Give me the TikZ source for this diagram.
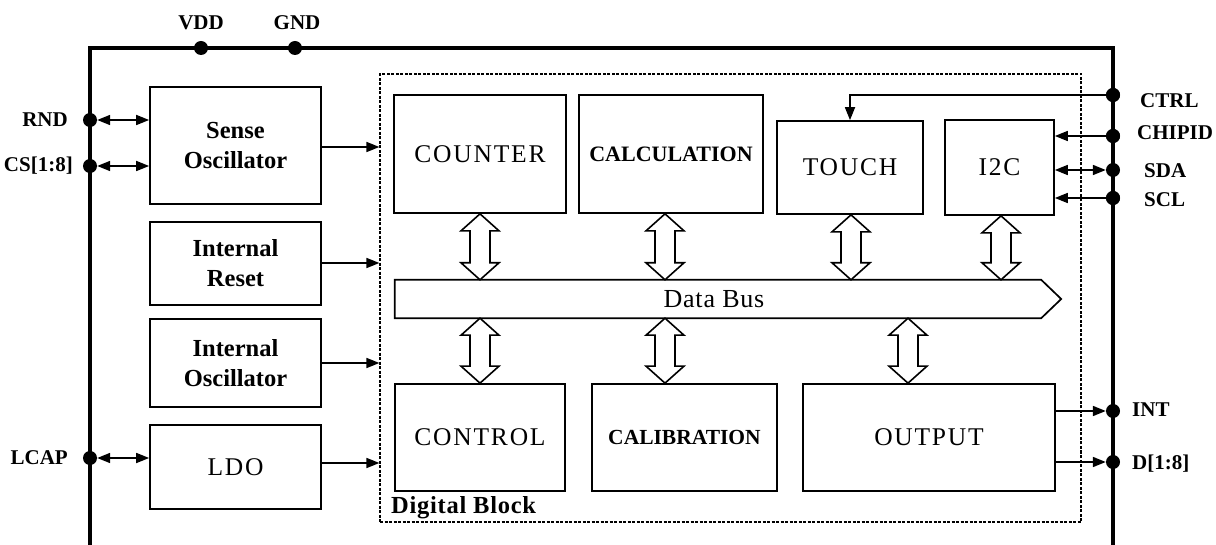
\documentclass[tikz,border=0pt]{standalone}
\usepackage{fontspec}
\setmainfont{Liberation Serif}
\usetikzlibrary{arrows.meta,calc}
\newcommand\dblarr[2]{%
  \path[hollow] let \p1=#1, \p2=#2 in
    (\x1,\y1) -- (\x1+19pt,\y1-17pt) -- (\x1+10pt,\y1-17pt) -- (\x1+10pt,\y2+17pt)
    -- (\x1+19pt,\y2+17pt) -- (\x1,\y2) -- (\x1-19pt,\y2+17pt) -- (\x1-10pt,\y2+17pt)
    -- (\x1-10pt,\y1-17pt) -- (\x1-19pt,\y1-17pt) -- cycle;}
\begin{document}
\begin{tikzpicture}[x=1pt,y=-1pt,
  blk/.style={draw, line width=1.7pt, inner sep=0pt, align=center},
  lft/.style={blk, minimum width=171pt, font=\fontsize{24.5}{30}\selectfont\bfseries},
  dig/.style={blk, font=\fontsize{25.5}{30}\selectfont\addfontfeature{LetterSpace=7}},
  digb/.style={blk, font=\fontsize{22}{26}\selectfont\bfseries},
  pin/.style={circle, fill=black, inner sep=0pt, minimum size=14pt},
  plbl/.style={font=\fontsize{21}{24}\selectfont\bfseries, inner sep=0pt},
  sig/.style={line width=1.7pt, -{Triangle[length=13pt,width=10pt]}},
  bsig/.style={line width=1.7pt, {Triangle[length=13pt,width=10pt]}-{Triangle[length=13pt,width=10pt]}},
  frame/.style={line width=3.2pt},
  hollow/.style={draw, line width=1.6pt, fill=white, line join=miter}
]
\useasboundingbox[fill=white] (0,0) rectangle (1216,545);

% outer frame
\draw[frame] (90,560) -- (90,48) -- (1113,48) -- (1113,560);

% digital block (dashed)
\node[draw, dash pattern=on 3pt off 1.5pt, line width=1.2pt, minimum width=701pt, minimum height=448pt, inner sep=0pt] (digital) at (730.5,298) {};
\node[font=\fontsize{24.5}{28}\selectfont\bfseries\addfontfeature{LetterSpace=3}, anchor=base west, inner sep=0pt] (dblbl) at (391,513) {Digital Block};

% left column
\node[lft, minimum height=117pt] (sense) at (235.5,145.5) {Sense\\Oscillator};
\node[lft, minimum height=83pt] (reset) at (235.5,263.5) {Internal\\Reset};
\node[lft, minimum height=88pt] (iosc) at (235.5,363) {Internal\\Oscillator};
\node[dig, minimum width=171pt, minimum height=84pt] (ldo) at (235.5,467) {LDO};

% digital blocks
\node[dig, minimum width=172pt, minimum height=118pt] (counter) at (480,154) {COUNTER};
\node[digb, minimum width=184pt, minimum height=118pt] (calc) at (671,154) {CALCULATION};
\node[dig, minimum width=146pt, minimum height=93pt] (touch) at (850,167.5) {TOUCH};
\node[dig, minimum width=109pt, minimum height=95pt] (i2c) at (999.5,167.5) {I2C};
\node[dig, minimum width=170pt, minimum height=107pt] (control) at (480,437.5) {CONTROL};
\node[blk, font=\fontsize{21.5}{26}\selectfont\bfseries, minimum width=185pt, minimum height=107pt] (calib) at (684.5,437.5) {CALIBRATION};
\node[dig, minimum width=252pt, minimum height=107pt] (output) at (929,437.5) {OUTPUT};

% data bus
\node[minimum width=666pt, minimum height=38pt, inner sep=0pt] (bus) at (728,299) {};
\draw[line width=1.7pt, line join=miter] (bus.north west) -- ([xshift=-20pt]bus.north east) -- (bus.east) -- ([xshift=-20pt]bus.south east) -- (bus.south west) -- cycle;
\node[font=\fontsize{26}{30}\selectfont\addfontfeature{LetterSpace=3}, inner sep=0pt] (buslbl) at (714,299) {Data Bus};

% hollow bus arrows
\coordinate (ca) at ([xshift=-6pt]calc.south);
\coordinate (ta) at ([xshift=1pt]touch.south);
\coordinate (ia) at ([xshift=1.5pt]i2c.south);
\coordinate (oa) at ([xshift=-21pt]output.north);
\dblarr{(counter.south)}{(bus.north)}
\dblarr{(ca)}{(bus.north)}
\dblarr{(ta)}{(bus.north)}
\dblarr{(ia)}{(bus.north)}
\dblarr{(counter.south |- bus.south)}{(control.north)}
\dblarr{(ca |- bus.south)}{(calib.north)}
\dblarr{(oa |- bus.south)}{(output.north)}

% pins
\node[pin] (vdd) at (201,48) {};
\node[pin] (gnd) at (295,48) {};
\node[pin] (rnd) at (90,120) {};
\node[pin] (cs) at (90,166) {};
\node[pin] (lcap) at (90,458) {};
\node[pin] (ctrl) at (1113,95) {};
\node[pin] (chipid) at (1113,136) {};
\node[pin] (sda) at (1113,170) {};
\node[pin] (scl) at (1113,198) {};
\node[pin] (int) at (1113,411) {};
\node[pin] (dout) at (1113,462) {};

\node[plbl] (vddl) at (201,23) {VDD};
\node[plbl] (gndl) at (297,23) {GND};
\node[plbl, anchor=east] (rndl) at (68,120) {RND};
\node[plbl, anchor=east] (csl) at (73,166) {CS[1:8]};
\node[plbl, anchor=east] (lcapl) at (68,458) {LCAP};
\node[plbl, anchor=west] (ctrll) at (1140,101) {CTRL};
\node[plbl, anchor=west] (chipidl) at (1137,133) {CHIPID};
\node[plbl, anchor=west] (sdal) at (1144,171) {SDA};
\node[plbl, anchor=west] (scll) at (1144,200) {SCL};
\node[plbl, anchor=west] (intl) at (1132,410) {INT};
\node[plbl, anchor=west] (doutl) at (1132,464) {D[1:8]};

% left connections
\draw[bsig] (rnd.east) -- (rnd.east -| sense.west);
\draw[bsig] (cs.east) -- (cs.east -| sense.west);
\draw[bsig] (lcap.east) -- (lcap.east -| ldo.west);
\draw[sig] ([yshift=-1.5pt]sense.east) -- ([yshift=-1.5pt]sense.east -| digital.west);
\draw[sig] ([yshift=0.5pt]reset.east) -- ([yshift=0.5pt]reset.east -| digital.west);
\draw[sig] (iosc.east) -- (iosc.east -| digital.west);
\draw[sig] ([yshift=4pt]ldo.east) -- ([yshift=4pt]ldo.east -| digital.west);

% right connections
\draw[sig] (ctrl.center) -- (ctrl.center -| touch.north) -- (touch.north);
\draw[sig] (chipid.center) -- (chipid.center -| i2c.east);
\draw[bsig] (sda.west) -- (sda.west -| i2c.east);
\draw[sig] (scl.center) -- (scl.center -| i2c.east);
\draw[sig] (int.center -| output.east) -- (int.west);
\draw[sig] (dout.center -| output.east) -- (dout.west);

% redraw pin dots on top
\foreach \p in {ctrl,chipid,scl}{\fill (\p) circle (7pt);}
\end{tikzpicture}
\end{document}
